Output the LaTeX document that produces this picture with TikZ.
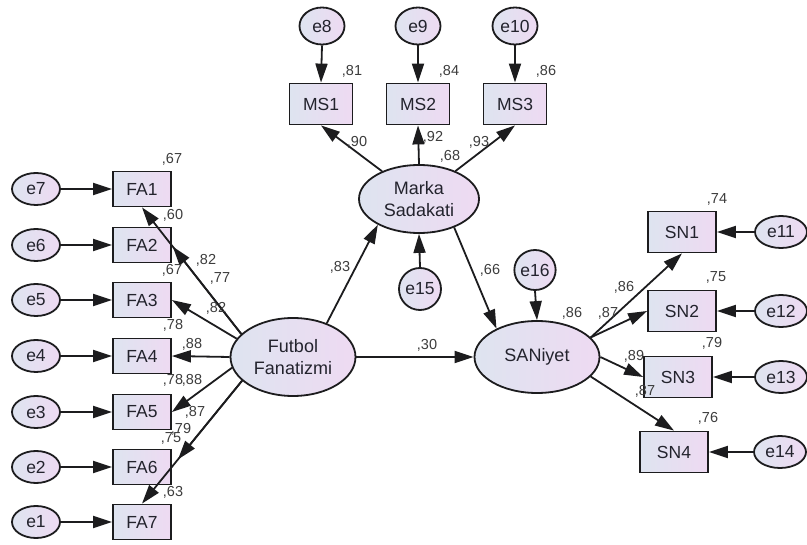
\documentclass[tikz,border=0pt]{standalone}
\usepackage{fontspec}
\setmainfont{Liberation Sans}
\usetikzlibrary{arrows.meta,shapes.geometric,calc}
\definecolor{fillL}{RGB}{222,228,240}
\definecolor{fillR}{RGB}{238,218,242}
\definecolor{edgec}{RGB}{28,28,30}
\definecolor{txtc}{RGB}{35,35,45}
\definecolor{lblc}{RGB}{60,60,60}
\tikzset{
  obs/.style={rectangle, draw=edgec, line width=1.8pt, left color=fillL, right color=fillR,
    minimum width=58pt, minimum height=35pt, inner sep=0pt, text=txtc,
    font=\fontsize{17.5}{18}\selectfont},
  msbox/.style={obs, minimum width=63pt, minimum height=41pt},
  snbox/.style={obs, minimum width=68pt, minimum height=41pt},
  lat/.style={ellipse, draw=edgec, line width=1.8pt, left color=fillL, right color=fillR,
    inner sep=0pt, text=txtc, align=center, font=\fontsize{18}{21.5}\selectfont},
  err/.style={ellipse, draw=edgec, line width=1.8pt, left color=fillL, right color=fillR,
    inner sep=0pt, text=txtc, font=\fontsize{17.5}{18}\selectfont},
  errL/.style={err, minimum width=48pt, minimum height=32pt},
  errR/.style={err, minimum width=52pt, minimum height=32pt},
  errT/.style={err, minimum width=45pt, minimum height=37pt},
  lbl/.style={inner sep=0pt, text=lblc, font=\fontsize{14.5}{15}\selectfont},
  arr/.style={draw=edgec, line width=1.8pt, -{Triangle[length=19pt,width=12pt]}},
}
\begin{document}
\begin{tikzpicture}[x=1pt,y=-1pt]
\useasboundingbox (0,0) rectangle (807,545);
% observed FA
\foreach \i/\y in {1/189,2/245,3/300,4/356,5/412,6/467,7/522}{
  \node[obs] (FA\i) at (142,\y) {FA\i};
}
\node[errL] (e7) at (36,189) {e7};
\node[errL] (e6) at (36,245) {e6};
\node[errL] (e5) at (36,300) {e5};
\node[errL] (e4) at (36,356) {e4};
\node[errL] (e3) at (36,412) {e3};
\node[errL] (e2) at (36,467) {e2};
\node[errL] (e1) at (36,522) {e1};
% latents
\node[lat, minimum width=125pt, minimum height=78pt] (FF) at (293,357) {Futbol\\Fanatizmi};
\node[lat, minimum width=120pt, minimum height=68pt] (MS) at (419,199) {Marka\\Sadakati};
\node[lat, minimum width=125pt, minimum height=72pt] (SAN) at (537,357) {SANiyet};
% MS indicators
\node[msbox] (MS1) at (321,104) {MS1};
\node[msbox] (MS2) at (418,104) {MS2};
\node[msbox] (MS3) at (515,104) {MS3};
\node[errT] (e8) at (322,26) {e8};
\node[errT] (e9) at (418,26) {e9};
\node[errT] (e10) at (515,26) {e10};
% disturbances
\node[err, minimum width=42pt, minimum height=42pt] (e15) at (420,289) {e15};
\node[err, minimum width=40pt, minimum height=40pt] (e16) at (535,270) {e16};
% SN indicators
\node[snbox] (SN1) at (682,232) {SN1};
\node[snbox] (SN2) at (682,311) {SN2};
\node[snbox] (SN3) at (678,377) {SN3};
\node[snbox] (SN4) at (674,452) {SN4};
\node[errR] (e11) at (781,232) {e11};
\node[errR] (e12) at (781,311) {e12};
\node[errR] (e13) at (781,377) {e13};
\node[errR] (e14) at (780,452) {e14};
% start points on FF and collinear arrow ends
\coordinate (ffa) at (FF.156);
\coordinate (ffb) at (FF.-155);
\coordinate (fa2t) at ($(ffa)!0.69!(FA1.south)$);
\coordinate (fa6t) at ($(ffb)!0.64!(FA7.north)$);
% error arrows left
\foreach \i/\e in {1/7,2/6,3/5,4/4,5/3,6/2,7/1}{
  \draw[arr] (e\e.east) -- (FA\i.west);
}
% FF loadings
\draw[arr] (ffa) -- (FA1.south);
\draw[arr] (ffa) -- (fa2t);
\draw[arr] (FF.162) -- (FA3.east);
\draw[arr] (FF.west) -- (FA4.east);
\draw[arr] (FF.-170) -- (FA5.east);
\draw[arr] (ffb) -- (fa6t);
\draw[arr] (ffb) -- (FA7.north);
% MS
\draw[arr] (e8.south) -- (MS1.north);
\draw[arr] (e9.south) -- (MS2.north);
\draw[arr] (e10.south) -- (MS3.north);
\draw[arr] (MS) -- (MS1.south);
\draw[arr] (MS.north) -- (MS2.south);
\draw[arr] (MS) -- (MS3.south);
\draw[arr] (e15.north) -- (MS.south);
% structural
\draw[arr] (FF.45) -- (MS.212);
\draw[arr] (MS.-39) -- (SAN.145);
\draw[arr] (FF.east) -- (SAN.west);
\draw[arr] (e16.south) -- (SAN.north);
% SN
\draw[arr] (SAN.20) -- (SN1.south);
\draw[arr] (SAN.20) -- (SN2.west);
\draw[arr] (SAN.east) -- (SN3.west);
\draw[arr] (SAN.-20) -- (SN4.north);
\draw[arr] (e11.west) -- (SN1.east);
\draw[arr] (e12.west) -- (SN2.east);
\draw[arr] (e13.west) -- (SN3.east);
\draw[arr] (e14.west) -- (SN4.east);
% labels FA side
\node[lbl] (l1) at (172,159) {,67};
\node[lbl] (l2) at (173,215) {,60};
\node[lbl] (l3) at (206,260) {,82};
\node[lbl] (l4) at (172,270) {,67};
\node[lbl] (l5) at (220,278) {,77};
\node[lbl] (l6) at (216,308) {,82};
\node[lbl] (l7) at (173,325) {,78};
\node[lbl] (l8) at (192,344) {,88};
\node[lbl] (l9) at (173,380) {,78};
\node[lbl] (l10) at (192,380) {,88};
\node[lbl] (l11) at (195,412) {,87};
\node[lbl] (l12) at (181,429) {,79};
\node[lbl] (l13) at (171,438) {,75};
\node[lbl] (l14) at (173,492) {,63};
% labels MS
\node[lbl] (l15) at (352,71) {,81};
\node[lbl] (l16) at (449,71) {,84};
\node[lbl] (l17) at (546,71) {,86};
\node[lbl] (l18) at (357,142) {,90};
\node[lbl] (l19) at (433,137) {,92};
\node[lbl] (l20) at (450,156) {,68};
\node[lbl] (l21) at (479,142) {,93};
% structural labels
\node[lbl] (l22) at (340,267) {,83};
\node[lbl] (l23) at (490,270) {,66};
\node[lbl] (l24) at (427,345) {,30};
\node[lbl] (l25) at (572,313) {,86};
% SN labels
\node[lbl] (l26) at (624,287) {,86};
\node[lbl] (l27) at (608,313) {,87};
\node[lbl] (l28) at (634,356) {,89};
\node[lbl] (l29) at (645,391) {,87};
\node[lbl] (l30) at (717,199) {,74};
\node[lbl] (l31) at (716,277) {,75};
\node[lbl] (l32) at (712,343) {,79};
\node[lbl] (l33) at (708,418) {,76};
\end{tikzpicture}
\end{document}
